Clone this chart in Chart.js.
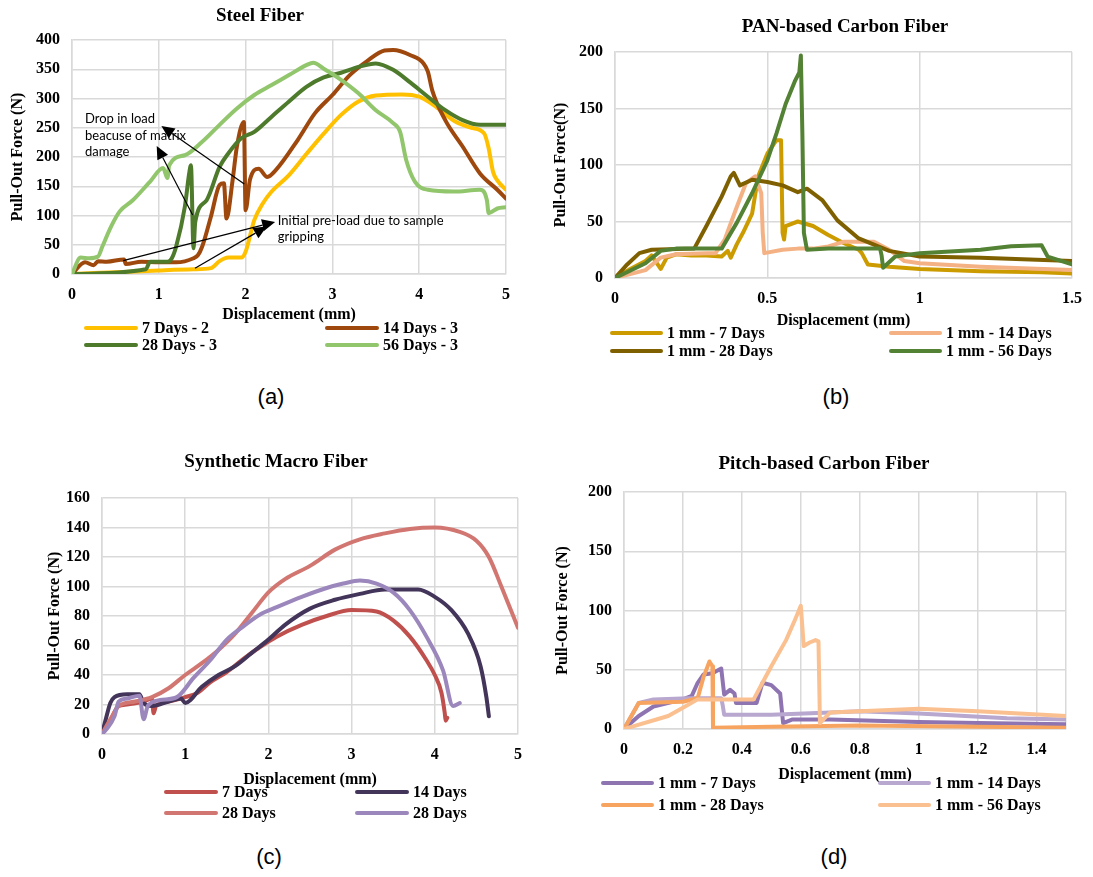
<!DOCTYPE html>
<html>
<head>
<meta charset="utf-8">
<script src="https://cdn.jsdelivr.net/npm/chart.js@4.4.1/dist/chart.umd.min.js"></script>
<style>
body { margin: 0; background: #fff; width: 1093px; height: 877px; position: relative; overflow: hidden; }
.ttl { position: absolute; font: bold 19px "Liberation Serif", serif; transform: translate(-50%, -50%); white-space: nowrap; color: #000; }
.lbl { position: absolute; font: 22px "Liberation Sans", Arial, sans-serif; transform: translate(-50%, -50%); color: #000; }
.leg { position: absolute; height: 20px; display: flex; align-items: center; font: bold 16px "Liberation Serif", serif; white-space: nowrap; color: #000; }
.leg i { display: inline-block; height: 4px; border-radius: 2px; margin-right: 4px; }
</style>
</head>
<body>
<script>
// ---- (a) Steel Fiber ----
const steelLabels = ['7 Days - 2', '14 Days - 3', '28 Days - 3', '56 Days - 3'];
const steelColors = ['#FFC000', '#9E480E', '#4E7A2C', '#92C66D'];
const steel7X = [0, 0.5, 1.0, 1.4, 1.6, 1.7, 1.8, 1.95, 2.0, 2.1, 2.2, 2.3, 2.5, 2.7, 2.9, 3.1, 3.3, 3.5, 3.8, 4.0, 4.2, 4.4, 4.6, 4.75, 4.8, 4.85, 4.9, 5.0];
const steel7Y = [0, 3, 6, 8, 10, 22, 28, 28, 38, 92, 121, 141, 169, 205, 240, 272, 295, 305, 307, 303, 285, 262, 250, 240, 215, 175, 160, 144];
const steel14X = [0, 0.15, 0.25, 0.3, 0.4, 0.6, 0.62, 0.8, 1.0, 1.2, 1.4, 1.45, 1.5, 1.6, 1.7, 1.75, 1.78, 1.85, 1.9, 1.98, 2.0, 2.05, 2.15, 2.25, 2.35, 2.6, 2.8, 3.0, 3.2, 3.4, 3.6, 3.7, 3.9, 4.05, 4.1, 4.15, 4.3, 4.5, 4.7, 4.9, 5.0];
const steel14Y = [0, 20, 15, 22, 21, 25, 17, 21, 20, 20, 27, 32, 47, 98, 152, 155, 95, 160, 218, 260, 109, 161, 180, 166, 178, 229, 275, 306, 340, 364, 382, 383, 374, 360, 346, 314, 263, 218, 172, 144, 129];
const steel28X = [0, 0.85, 0.9, 1.1, 1.15, 1.2, 1.3, 1.35, 1.37, 1.4, 1.42, 1.55, 1.7, 1.8, 1.95, 2.1, 2.3, 2.5, 2.7, 2.9, 3.1, 3.3, 3.5, 3.7, 3.9, 4.1, 4.3, 4.5, 4.7, 5.0];
const steel28Y = [0, 8, 21, 21, 27, 47, 115, 172, 186, 44, 89, 126, 183, 206, 232, 243, 269, 295, 320, 336, 344, 354, 360, 349, 327, 303, 280, 263, 255, 255];
const steel56X = [0, 0.1, 0.2, 0.3, 0.35, 0.45, 0.55, 0.7, 0.9, 1.05, 1.1, 1.12, 1.3, 1.5, 1.7, 1.9, 2.1, 2.3, 2.5, 2.7, 2.78, 2.9, 3.1, 3.3, 3.5, 3.7, 3.78, 3.85, 3.95, 4.1, 4.4, 4.7, 4.78, 4.8, 4.9, 5.0];
const steel56Y = [0, 28, 27, 30, 47, 81, 107, 126, 158, 181, 164, 186, 203, 226, 255, 283, 306, 323, 340, 357, 361, 351, 332, 309, 280, 258, 243, 195, 158, 144, 141, 144, 126, 104, 112, 114];

// ---- (b) PAN-based Carbon Fiber ----
const panLabels = ['1 mm - 7 Days', '1 mm - 14 Days', '1 mm - 28 Days', '1 mm - 56 Days'];
const panColors = ['#CC9B00', '#F4B183', '#7F6000', '#548235'];
const pan7X = [0, 0.05, 0.1, 0.12, 0.14, 0.15, 0.17, 0.2, 0.25, 0.3, 0.35, 0.37, 0.38, 0.4, 0.42, 0.45, 0.47, 0.5, 0.53, 0.545, 0.55, 0.555, 0.56, 0.6, 0.65, 0.7, 0.75, 0.8, 0.81, 0.83, 0.9, 1.0, 1.2, 1.4, 1.5];
const pan7Y = [0, 8, 15, 20, 12, 8, 18, 21, 20, 20, 19, 24, 18, 30, 40, 57, 90, 110, 122, 122, 40, 34, 46, 50, 46, 38, 31, 25, 22, 12, 10, 8, 6, 5, 4];
const pan14X = [0, 0.1, 0.15, 0.2, 0.3, 0.33, 0.36, 0.4, 0.43, 0.46, 0.48, 0.485, 0.49, 0.55, 0.6, 0.65, 0.7, 0.75, 0.85, 0.9, 0.95, 1.0, 1.2, 1.5];
const pan14Y = [0, 7, 18, 21, 22, 22, 34, 63, 84, 90, 75, 40, 22, 25, 26, 26, 28, 32, 32, 25, 15, 13, 10, 7];
const pan28X = [0, 0.04, 0.08, 0.12, 0.26, 0.3, 0.35, 0.38, 0.39, 0.41, 0.45, 0.5, 0.55, 0.6, 0.63, 0.68, 0.73, 0.8, 0.9, 1.0, 1.2, 1.5];
const pan28Y = [0, 12, 22, 25, 26, 46, 72, 90, 93, 82, 87, 85, 82, 76, 79, 69, 51, 35, 24, 19, 18, 15];
const pan56X = [0, 0.1, 0.15, 0.2, 0.35, 0.4, 0.45, 0.5, 0.53, 0.56, 0.59, 0.605, 0.61, 0.615, 0.62, 0.63, 0.7, 0.87, 0.875, 0.88, 0.92, 1.0, 1.2, 1.3, 1.4, 1.42, 1.5];
const pan56Y = [0, 13, 24, 26, 26, 49, 75, 104, 128, 154, 174, 182, 197, 128, 40, 25, 26, 26, 20, 9, 19, 22, 25, 28, 29, 19, 12];

// ---- (c) Synthetic Macro Fiber ----
const synLabels = ['7 Days', '14 Days', '28 Days', '28 Days'];
const synColors = ['#C0504D', '#43345A', '#D27672', '#9B87BB'];
const syn7X = [0, 0.1, 0.2, 0.3, 0.5, 0.6, 0.62, 0.65, 0.8, 1.0, 1.15, 1.3, 1.5, 1.7, 1.9, 2.1, 2.4, 2.7, 3.0, 3.3, 3.5, 3.7, 3.9, 4.0, 4.08, 4.12, 4.13, 4.15];
const syn7Y = [0, 9, 19, 20, 22, 24, 14, 19, 22, 25, 28, 35, 42, 51, 59, 66, 74, 80, 84, 83, 77, 66, 50, 40, 28, 14, 9, 11];
const syn14X = [0, 0.05, 0.1, 0.15, 0.3, 0.45, 0.5, 0.6, 0.8, 0.95, 1.0, 1.2, 1.4, 1.6, 1.8, 2.0, 2.2, 2.5, 2.8, 3.1, 3.4, 3.8, 4.0, 4.2, 4.4, 4.55, 4.62, 4.65];
const syn14Y = [0, 11, 21, 25, 27, 27, 21, 19, 22, 24, 21, 32, 40, 46, 55, 64, 74, 85, 91, 95, 98, 98, 93, 84, 68, 46, 25, 12];
const syn28aX = [0, 0.1, 0.2, 0.4, 0.6, 0.8, 1.0, 1.2, 1.4, 1.6, 1.8, 2.0, 2.2, 2.5, 2.8, 3.1, 3.4, 3.7, 4.0, 4.3, 4.5, 4.65, 4.8, 5.0];
const syn28aY = [0, 10, 19, 22, 25, 31, 40, 48, 57, 68, 82, 96, 105, 114, 125, 132, 136, 139, 140, 137, 131, 120, 100, 72];
const syn28bX = [0, 0.05, 0.15, 0.2, 0.3, 0.45, 0.5, 0.55, 0.7, 0.9, 1.1, 1.3, 1.5, 1.7, 1.9, 2.1, 2.4, 2.7, 2.9, 3.1, 3.3, 3.5, 3.7, 3.9, 4.1, 4.22, 4.3];
const syn28bY = [0, 3, 12, 22, 24, 26, 10, 19, 23, 25, 38, 50, 64, 73, 81, 86, 93, 99, 102, 104, 102, 96, 84, 66, 43, 19, 21];

// ---- (d) Pitch-based Carbon Fiber ----
const pitchLabels = ['1 mm - 7 Days', '1 mm - 14 Days', '1 mm - 28 Days', '1 mm - 56 Days'];
const pitchColors = ['#8E74B0', '#B8A7CF', '#F7A460', '#FBC090'];
const pitchXTicks = [0, 0.2, 0.4, 0.6, 0.8, 1, 1.2, 1.4, 1.5];
const pitch7X = [0, 0.05, 0.1, 0.2, 0.23, 0.25, 0.27, 0.3, 0.33, 0.34, 0.36, 0.375, 0.38, 0.45, 0.47, 0.5, 0.53, 0.54, 0.57, 0.7, 1.0, 1.2, 1.5];
const pitch7Y = [0, 11, 19, 25, 28, 39, 46, 47, 51, 29, 33, 30, 22, 22, 39, 37, 30, 5, 8, 8, 6, 5, 4];
const pitch14X = [0, 0.05, 0.1, 0.22, 0.33, 0.335, 0.34, 0.5, 0.7, 0.8, 1.0, 1.3, 1.5];
const pitch14Y = [0, 22, 25, 26, 26, 20, 12, 12, 14, 15, 13, 9, 8];
const pitch28X = [0, 0.05, 0.2, 0.25, 0.27, 0.29, 0.3, 0.302, 0.5, 0.8, 1.2, 1.5];
const pitch28Y = [0, 22, 23, 26, 44, 57, 53, 1, 2, 3, 2, 1];
const pitch56X = [0, 0.15, 0.2, 0.25, 0.3, 0.44, 0.47, 0.5, 0.55, 0.58, 0.6, 0.61, 0.63, 0.65, 0.66, 0.665, 0.7, 0.8, 1.0, 1.2, 1.5];
const pitch56Y = [0, 11, 18, 25, 25, 25, 39, 53, 75, 92, 104, 70, 73, 75, 74, 5, 14, 15, 17, 15, 11];

const SERIF = '"Liberation Serif", "Times New Roman", serif';
const GRID = '#D9D9D9';
const fmt = v => String(Math.round(v * 10) / 10);

// callouts on the steel plot, in data units
const steelNotes = [
  { x: 0.15, y: 265, lines: ['Drop in load', 'beacuse of matrix', 'damage'] },
  { x: 2.37, y: 91, lines: ['Initial pre-load due to sample', 'gripping'] }
];
const steelArrows = [
  { from: [1.985, 154], to: [1.03, 253] },
  { from: [1.39, 101], to: [0.976, 219] },
  { from: [0.59, 23], to: [2.34, 89] },
  { from: [1.417, 10], to: [2.243, 81] }
];

const calloutPlugin = {
  id: 'callouts',
  afterDatasetsDraw(chart) {
    const { ctx, scales: { x, y } } = chart;
    ctx.save();
    ctx.fillStyle = '#000';
    ctx.font = '13px Lato, "Open Sans", sans-serif';
    ctx.textBaseline = 'middle';
    steelNotes.forEach(n => {
      n.lines.forEach((t, i) => ctx.fillText(t, x.getPixelForValue(n.x), y.getPixelForValue(n.y) + i * 16.5));
    });
    ctx.strokeStyle = '#000';
    ctx.lineWidth = 1.2;
    steelArrows.forEach(a => {
      const x1 = x.getPixelForValue(a.from[0]), y1 = y.getPixelForValue(a.from[1]);
      const x2 = x.getPixelForValue(a.to[0]), y2 = y.getPixelForValue(a.to[1]);
      const ang = Math.atan2(y2 - y1, x2 - x1), L = 13, W = 6;
      const bx = x2 - L * Math.cos(ang), by = y2 - L * Math.sin(ang);
      ctx.beginPath(); ctx.moveTo(x1, y1); ctx.lineTo(bx, by); ctx.stroke();
      ctx.beginPath();
      ctx.moveTo(x2, y2);
      ctx.lineTo(bx + W * Math.sin(ang), by - W * Math.cos(ang));
      ctx.lineTo(bx - W * Math.sin(ang), by + W * Math.cos(ang));
      ctx.closePath(); ctx.fill();
    });
    ctx.restore();
  }
};

function addDiv(cls, x, y, html) {
  const d = document.createElement('div');
  d.className = cls;
  d.style.left = x + 'px';
  d.style.top = y + 'px';
  d.innerHTML = html;
  document.body.appendChild(d);
}

function makePanel(p) {
  const [bx, by, bw, bh] = p.box;
  const [l, t, r, b] = p.area;
  const c = document.createElement('canvas');
  c.width = bw; c.height = bh;
  c.style.cssText = `position:absolute;left:${bx}px;top:${by}px`;
  document.body.appendChild(c);
  const half = 9.6;
  const yW = l - p.yTitleX + half;
  const xH = p.xTitleY + half - b;
  const padding = {
    left: p.yTitleX - half - bx,
    top: t - by,
    right: bx + bw - r,
    bottom: bh - (p.xTitleY + half - by)
  };
  const font = { family: SERIF, size: 16, weight: 'bold' };
  const datasets = p.xs.map((xs, i) => ({
    label: p.labels[i],
    data: xs.map((v, j) => ({ x: v, y: p.ys[i][j] })),
    borderColor: p.colors[i],
    backgroundColor: p.colors[i],
    borderWidth: 4,
    pointRadius: 0,
    fill: false,
    cubicInterpolationMode: p.smooth ? 'monotone' : 'default',
    tension: 0,
    borderJoinStyle: 'round',
    borderCapStyle: 'round',
    order: 10 - i
  }));
  new Chart(c, {
    type: 'scatter',
    data: { datasets },
    options: {
      responsive: false,
      devicePixelRatio: 1,
      animation: false,
      showLine: true,
      layout: { padding },
      plugins: { legend: { display: false }, tooltip: { enabled: false } },
      scales: {
        x: {
          type: 'linear', min: 0, max: p.xMax,
          afterFit: s => { s.height = xH; },
          afterBuildTicks: s => { if (p.xTicks) s.ticks = p.xTicks.map(v => ({ value: v })); },
          ticks: { stepSize: p.xStep, padding: 11, font, color: '#000', maxRotation: 0, autoSkip: false,
            callback: v => (v > p.xLabelMax + 1e-9 ? '' : fmt(v)) },
          grid: { color: GRID, lineWidth: 1.5, drawTicks: false },
          border: { color: GRID, width: 1.5 },
          title: { display: true, text: 'Displacement (mm)', font, color: '#000', padding: 0 }
        },
        y: {
          type: 'linear', min: 0, max: p.yMax,
          afterFit: s => { s.width = yW; },
          ticks: { stepSize: p.yStep, padding: 12, font, color: '#000', callback: v => fmt(v) },
          grid: { color: GRID, lineWidth: 1.5, drawTicks: false },
          border: { color: GRID, width: 1.5 },
          title: { display: true, text: p.yTitle, font, color: '#000', padding: 0 }
        }
      }
    },
    plugins: p.extra ? [p.extra] : []
  });
  addDiv('ttl', p.title[1], p.title[2], p.title[0]);
  addDiv('lbl', p.tag[1], p.tag[2], p.tag[0]);
  p.labels.forEach((lab, i) => {
    const col = p.legCols[i % 2], row = p.legRows[Math.floor(i / 2)];
    addDiv('leg', col, row - 10, `<i style="width:${p.legLine}px;background:${p.colors[i]}"></i>${lab}`);
  });
}

makePanel({
  box: [0, 0, 546, 335], area: [72, 40, 506, 274], yTitleX: 18, xTitleY: 315,
  xMax: 5, xStep: 1, xLabelMax: 5, yMax: 400, yStep: 50, yTitle: 'Pull-Out Force (N)',
  labels: steelLabels, colors: steelColors, smooth: true,
  xs: [steel7X, steel14X, steel28X, steel56X], ys: [steel7Y, steel14Y, steel28Y, steel56Y],
  title: ['Steel Fiber', 260, 15], tag: ['(a)', 271, 397],
  legCols: [84, 325], legRows: [328, 345], legLine: 54, extra: calloutPlugin
});
makePanel({
  box: [546, 0, 547, 345], area: [615, 52, 1080, 278], yTitleX: 561, xTitleY: 321,
  xMax: 1.5, xStep: 0.5, xLabelMax: 1.5, yMax: 200, yStep: 50, yTitle: 'Pull-Out Force(N)',
  labels: panLabels, colors: panColors, smooth: false,
  xs: [pan7X, pan14X, pan28X, pan56X], ys: [pan7Y, pan14Y, pan28Y, pan56Y],
  title: ['PAN-based Carbon Fiber', 845, 26], tag: ['(b)', 836, 397],
  legCols: [610, 889], legRows: [333, 351], legLine: 53
});
makePanel({
  box: [0, 430, 546, 370], area: [102, 498, 518, 734], yTitleX: 55, xTitleY: 780,
  xMax: 5, xStep: 1, xLabelMax: 5, yMax: 160, yStep: 20, yTitle: 'Pull-Out Force (N)',
  labels: synLabels, colors: synColors, smooth: true,
  xs: [syn7X, syn14X, syn28aX, syn28bX], ys: [syn7Y, syn14Y, syn28aY, syn28bY],
  title: ['Synthetic Macro Fiber', 276, 461], tag: ['(c)', 269, 857],
  legCols: [164, 355], legRows: [792, 813], legLine: 54
});
makePanel({
  box: [546, 430, 547, 370], area: [624, 492, 1066, 729], yTitleX: 563, xTitleY: 775,
  xMax: 1.5, xStep: 0.2, xLabelMax: 1.4, xTicks: pitchXTicks, yMax: 200, yStep: 50, yTitle: 'Pull-Out Force (N)',
  labels: pitchLabels, colors: pitchColors, smooth: false,
  xs: [pitch7X, pitch14X, pitch28X, pitch56X], ys: [pitch7Y, pitch14Y, pitch28Y, pitch56Y],
  title: ['Pitch-based Carbon Fiber', 824, 463], tag: ['(d)', 834, 857],
  legCols: [601, 878], legRows: [783, 805], legLine: 53
});
</script>
</body>
</html>
